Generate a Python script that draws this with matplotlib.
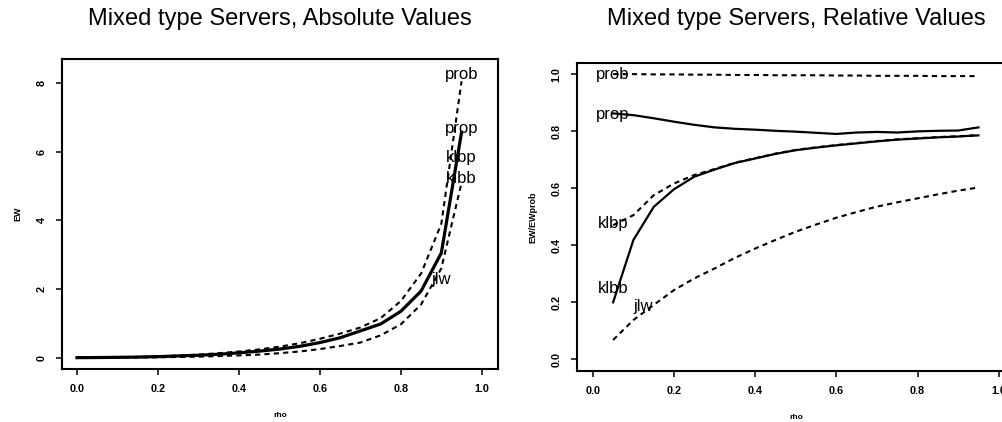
import matplotlib
matplotlib.use("Agg")
import matplotlib.pyplot as plt

plt.rcParams['font.family'] = ['Liberation Sans', 'DejaVu Sans']

# absolute values, rho = 0.00 .. 0.95
rho_abs = [0.0, 0.05, 0.1, 0.15, 0.2, 0.25, 0.3, 0.35, 0.4, 0.45,
           0.5, 0.55, 0.6, 0.65, 0.7, 0.75, 0.8, 0.85, 0.9, 0.95]
ew_prob = [0.0, 0.005, 0.01, 0.02, 0.04, 0.06, 0.09, 0.13, 0.18, 0.24,
           0.32, 0.42, 0.55, 0.7, 0.88, 1.15, 1.65, 2.45, 3.9, 8.05]
ew_prop = [0.0, 0.004, 0.01, 0.018, 0.03, 0.05, 0.07, 0.1, 0.14, 0.19,
           0.25, 0.33, 0.44, 0.58, 0.78, 0.98, 1.35, 1.94, 3.05, 6.57]
ew_jlw = [0.0, 0.001, 0.003, 0.006, 0.01, 0.02, 0.03, 0.045, 0.065, 0.09,
          0.13, 0.18, 0.25, 0.34, 0.44, 0.65, 0.97, 1.55, 2.6, 5.1]

# relative values EW/EWprob, rho = 0.05 .. 0.95
rho_rel = [0.05, 0.1, 0.15, 0.2, 0.25, 0.3, 0.35, 0.4, 0.45, 0.5,
           0.55, 0.6, 0.65, 0.7, 0.75, 0.8, 0.85, 0.9, 0.95]
rel_prob = [1.0, 1.0, 0.999, 0.999, 0.998, 0.998, 0.997, 0.997, 0.996, 0.996,
            0.996, 0.995, 0.995, 0.994, 0.994, 0.994, 0.993, 0.993, 0.993]
rel_prop = [0.862, 0.856, 0.845, 0.833, 0.822, 0.813, 0.808, 0.805, 0.801, 0.798,
            0.794, 0.79, 0.795, 0.797, 0.795, 0.799, 0.801, 0.802, 0.813]
rel_klbp = [0.47, 0.505, 0.575, 0.616, 0.646, 0.667, 0.689, 0.705, 0.721, 0.734,
            0.743, 0.751, 0.758, 0.765, 0.771, 0.775, 0.779, 0.782, 0.786]
rel_klbb = [0.199, 0.418, 0.534, 0.596, 0.64, 0.665, 0.688, 0.704, 0.72, 0.733,
            0.742, 0.75, 0.757, 0.764, 0.77, 0.774, 0.778, 0.781, 0.785]
rel_jlw = [0.067, 0.137, 0.19, 0.242, 0.283, 0.318, 0.355, 0.388, 0.418, 0.447,
           0.472, 0.496, 0.516, 0.535, 0.55, 0.564, 0.578, 0.591, 0.602]

# label positions
abs_labels = [("prob", 0.95, 8.24), ("prop", 0.95, 6.69), ("klbp", 0.95, 5.84),
              ("klbb", 0.95, 5.22), ("jlw", 0.9, 2.29)]
rel_labels = [("prob", 0.05, 0.998), ("prop", 0.05, 0.86), ("klbp", 0.05, 0.476),
              ("klbb", 0.05, 0.248), ("jlw", 0.125, 0.184)]

dash = (0, (2.5, 2))

fig = plt.figure(figsize=(10.03, 4.22), dpi=100)
ax1 = fig.add_axes([62 / 1003, 1 - 369 / 422, 436 / 1003, 310 / 422])
ax2 = fig.add_axes([577 / 1003, 1 - 371 / 422, 438 / 1003, 308 / 422])

ax1.plot(rho_abs, ew_prob, color="black", lw=1.5, linestyle=dash)
ax1.plot(rho_abs, ew_prop, color="black", lw=2.3)
ax1.plot(rho_abs, ew_jlw, color="black", lw=1.5, linestyle=dash)
for name, x, y in abs_labels:
    ax1.text(x, y, name, ha="center", va="center", fontsize=12)
ax1.set_xlim(-0.037, 1.04)
ax1.set_ylim(-0.33, 8.7)
ax1.set_yticks([0, 2, 4, 6, 8])
ax1.set_ylabel("EW", fontsize=6.5, fontweight="bold", labelpad=10)
ax1.set_title("Mixed type Servers, Absolute Values", fontsize=17, pad=24.5)

ax2.plot(rho_rel, rel_prob, color="black", lw=1.5, linestyle=dash)
ax2.plot(rho_rel, rel_prop, color="black", lw=1.6)
ax2.plot(rho_rel, rel_klbp, color="black", lw=1.5, linestyle=dash)
ax2.plot(rho_rel, rel_klbb, color="black", lw=1.6)
ax2.plot(rho_rel, rel_jlw, color="black", lw=1.5, linestyle=dash)
for name, x, y in rel_labels:
    ax2.text(x, y, name, ha="center", va="center", fontsize=12)
ax2.set_xlim(-0.039, 1.04)
ax2.set_ylim(-0.042, 1.039)
ax2.set_yticks([0.0, 0.2, 0.4, 0.6, 0.8, 1.0])
ax2.set_yticklabels(["0.0", "0.2", "0.4", "0.6", "0.8", "1.0"])
ax2.set_ylabel("EW/EWprob", fontsize=6.5, fontweight="bold", labelpad=10)
ax2.set_title("Mixed type Servers, Relative Values", fontsize=17, pad=27.5)

for ax in (ax1, ax2):
    ax.set_xticks([0.0, 0.2, 0.4, 0.6, 0.8, 1.0])
    ax.set_xticklabels(["0.0", "0.2", "0.4", "0.6", "0.8", "1.0"])
    ax.set_xlabel("rho", fontsize=6, fontweight="bold", labelpad=13)
    ax.tick_params(direction="out", length=4.5, width=1.1, pad=6.5,
                   labelsize=7.8)
    for lab in ax.get_xticklabels() + ax.get_yticklabels():
        lab.set_fontweight("bold")
    for lab in ax.get_yticklabels():
        lab.set_rotation(90)
        lab.set_va("center")
    for s in ax.spines.values():
        s.set_linewidth(1.5)

fig.savefig("out.png", dpi=100)
